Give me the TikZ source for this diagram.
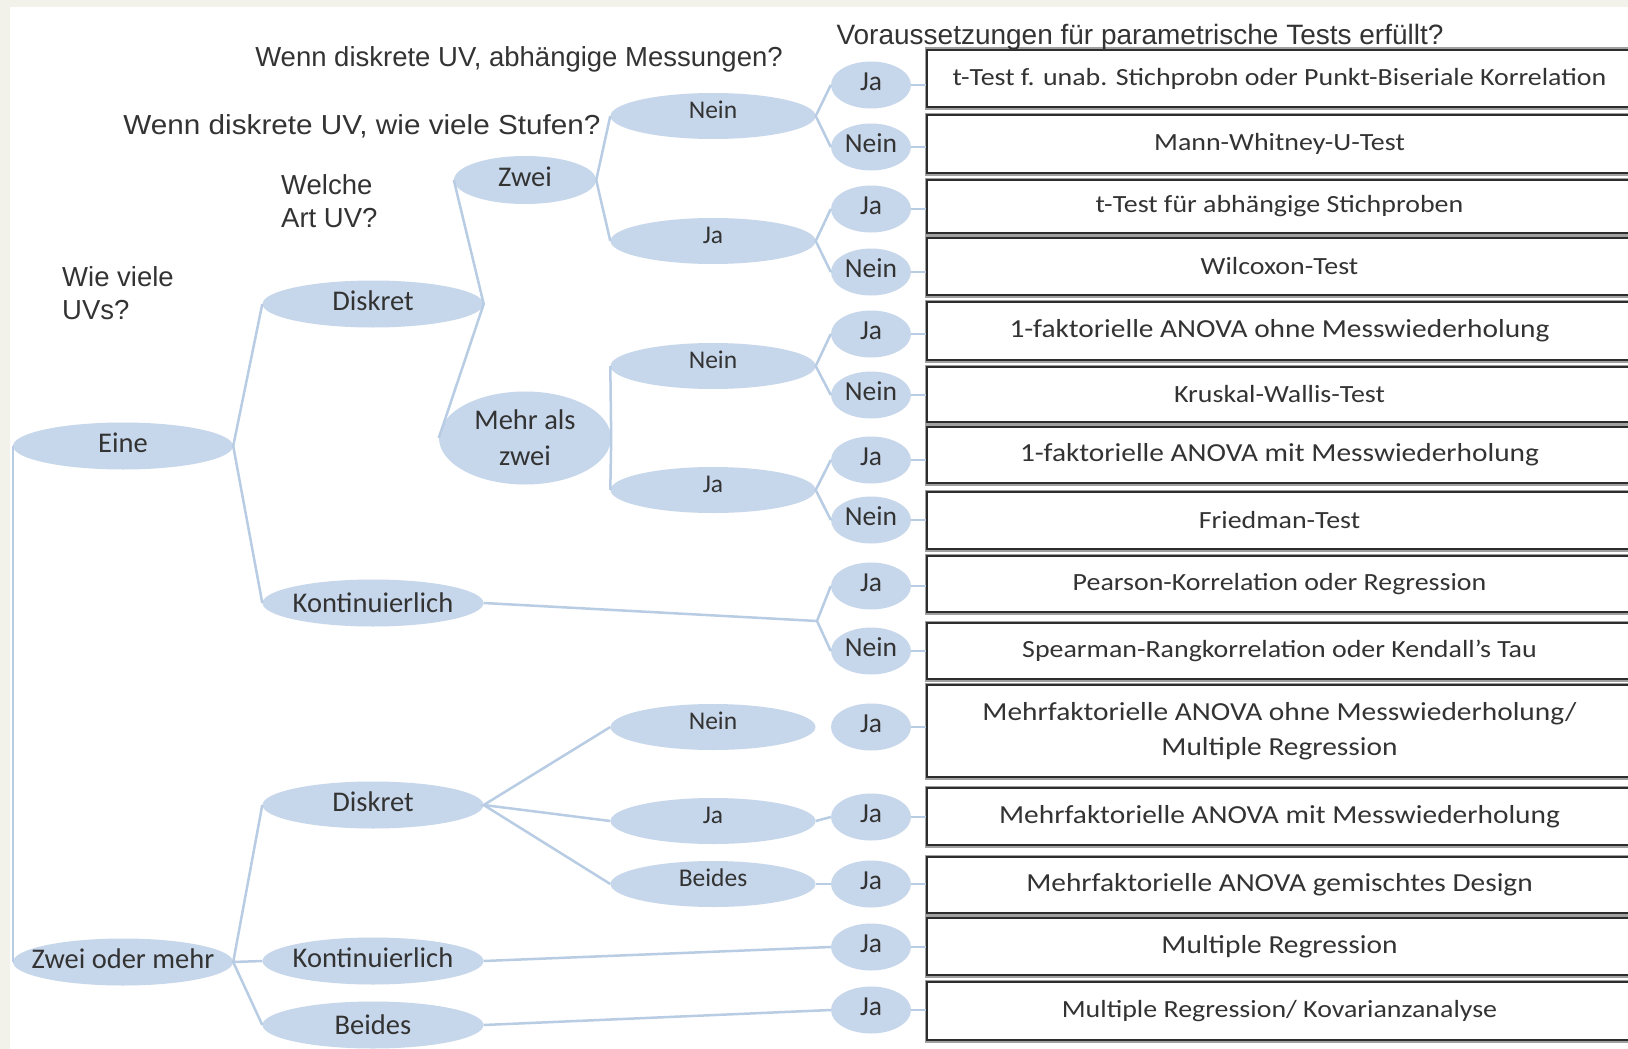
\documentclass[tikz,border=0pt]{standalone}
\usepackage{fontspec}
\setmainfont{Carlito}
\newfontfamily\arialfont{Liberation Sans}
\newfontfamily\arialbreit[FakeStretch=1.08]{Liberation Sans}
\newfontfamily\boxfont[FakeStretch=1.13]{Carlito}
\usetikzlibrary{shapes.geometric}
\definecolor{uvblau}{RGB}{199,215,235}
\definecolor{astblau}{RGB}{184,204,228}
\definecolor{schrift}{RGB}{51,51,51}
\definecolor{randgrau}{RGB}{242,242,235}
\definecolor{rahmen}{RGB}{45,45,45}
\definecolor{schatten}{RGB}{160,160,160}

\begin{document}
\begin{tikzpicture}[x=1pt,y=-1pt,
		uvform/.style={ellipse,fill=uvblau,inner sep=0pt,text=schrift,font=\fontsize{28.5}{36}\selectfont,minimum width=221,minimum height=47},
		uv/.style={uvform,text height=21pt,text depth=8pt},
		antwort/.style={ellipse,fill=uvblau,inner sep=0pt,text=schrift,font=\fontsize{25.5}{30}\selectfont,minimum width=205,minimum height=46,text height=17pt,text depth=12pt},
		jn/.style={ellipse,fill=uvblau,inner sep=0pt,text=schrift,font=\fontsize{27.5}{32}\selectfont,minimum width=80,minimum height=47,text height=19pt,text depth=9pt},
		ast/.style={draw=astblau,line width=2.5pt},
		frage/.style={font=\arialfont\fontsize{27.5}{33}\selectfont,text=schrift,inner sep=0pt},
		testbox/.style={fill=white,draw=rahmen,line width=2pt,preaction={draw=schatten,line width=5pt},minimum width=705,inner sep=0pt,text=schrift,align=center},
		klein/.style={font=\boxfont\fontsize{24.7}{29}\selectfont},
		gross/.style={font=\boxfont\fontsize{26}{35}\selectfont}]
		\useasboundingbox (0,0) rectangle (1628,1049);
		\fill[randgrau] (0,0) rectangle (1628,1049);
		\fill[white] (10,7) rectangle (1650,1070);
		
		% Fragen
		\node[frage] (qmess) at (519,59) {Wenn diskrete UV, abhängige Messungen?};
		\node[frage,font=\arialbreit\fontsize{27.5}{33}\selectfont] (qstufen) at (362,126) {Wenn diskrete UV, wie viele Stufen?};
		\node[frage,anchor=west,align=left] (qart) at (281,201) {Welche\\Art UV?};
		\node[frage,anchor=west,align=left] (qanzahl) at (62,293) {Wie viele\\UVs?};
		
		% Testboxen
		\node[testbox,klein,minimum height=57] (t1) at (1279.5,78.5) {t-Test f. unab. Stichprobn oder Punkt-Biseriale Korrelation};
		\node[testbox,klein,minimum height=58] (t2) at (1279.5,144) {Mann-Whitney-U-Test};
		\node[testbox,klein,minimum height=53] (t3) at (1279.5,206.5) {t-Test für abhängige Stichproben};
		\node[testbox,klein,minimum height=57] (t4) at (1279.5,266.5) {Wilcoxon-Test};
		\node[testbox,gross,minimum height=58] (t5) at (1279.5,331) {1-faktorielle ANOVA ohne Messwiederholung};
		\node[testbox,klein,minimum height=55] (t6) at (1279.5,394.5) {Kruskal-Wallis-Test};
		\node[testbox,gross,minimum height=56] (t7) at (1279.5,455) {1-faktorielle ANOVA mit Messwiederholung};
		\node[testbox,klein,minimum height=57] (t8) at (1279.5,520.5) {Friedman-Test};
		\node[testbox,klein,minimum height=56] (t9) at (1279.5,584) {Pearson-Korrelation oder Regression};
		\node[testbox,klein,minimum height=56] (t10) at (1279.5,651) {Spearman-Rangkorrelation oder Kendall’s Tau};
		\node[testbox,gross,minimum height=92] (t11) at (1279.5,731) {Mehrfaktorielle ANOVA ohne Messwiederholung/\\Multiple Regression};
		\node[testbox,gross,minimum height=57] (t12) at (1279.5,816.5) {Mehrfaktorielle ANOVA mit Messwiederholung};
		\node[testbox,gross,minimum height=56] (t13) at (1279.5,885) {Mehrfaktorielle ANOVA gemischtes Design};
		\node[testbox,gross,minimum height=57] (t14) at (1279.5,946.5) {Multiple Regression};
		\node[testbox,klein,minimum height=58] (t15) at (1279.5,1011) {Multiple Regression/ Kovarianzanalyse};
		
		\node[frage,font=\arialfont\fontsize{28}{33}\selectfont] (qvoraus) at (1140,37) {Voraussetzungen für parametrische Tests erfüllt?};
		
		% Anzahl und Art der UVs
		\node[uv,minimum width=220] (eine) at (123,446) {Eine};
		\node[uv,minimum width=220,inner xsep=-20pt] (zweimehr) at (123,962) {Zwei oder mehr};
		\node[uv] (diskreta) at (373,304) {Diskret};
		\node[uvform,inner xsep=-8pt] (konta) at (373,603) {Kontinuierlich};
		\node[uv] (diskretb) at (373,805) {Diskret};
		\node[uv,inner xsep=-8pt] (kontb) at (373,961) {Kontinuierlich};
		\node[uvform] (beidesb) at (373,1025) {Beides};
		\node[uv,minimum width=142,minimum height=48] (zwei) at (525,180) {Zwei};
		\node[uvform,minimum width=172,minimum height=93,align=center] (mehr) at (525,438) {Mehr als\\zwei};
		
		% abhängige Messungen
		\node[antwort] (neina) at (713,116) {Nein};
		\node[antwort] (jaa) at (713,241) {Ja};
		\node[antwort] (neinb) at (713,366) {Nein};
		\node[antwort] (jab) at (713,490) {Ja};
		\node[antwort] (neinc) at (713,727) {Nein};
		\node[antwort] (jac) at (713,821) {Ja};
		\node[antwort] (beidesc) at (713,884) {Beides};
		
		% Voraussetzungen
		\node[jn] (c1) at (871,85) {Ja};
		\node[jn] (c2) at (871,147) {Nein};
		\node[jn] (c3) at (871,209) {Ja};
		\node[jn] (c4) at (871,272) {Nein};
		\node[jn] (c5) at (871,334) {Ja};
		\node[jn] (c6) at (871,395) {Nein};
		\node[jn] (c7) at (871,460) {Ja};
		\node[jn] (c8) at (871,520) {Nein};
		\node[jn] (c9) at (871,586) {Ja};
		\node[jn] (c10) at (871,651) {Nein};
		\node[jn] (c11) at (871,727) {Ja};
		\node[jn] (c12) at (871,817) {Ja};
		\node[jn] (c13) at (871,884) {Ja};
		\node[jn] (c14) at (871,947) {Ja};
		\node[jn] (c15) at (871,1010) {Ja};
		\coordinate (gabel) at (817,621);
		
		% Äste
		\draw[ast] (eine.west) -- (zweimehr.west);
		\draw[ast] (diskreta.west) -- (eine.east) -- (konta.west);
		\draw[ast] (zwei.west) -- (diskreta.east) -- (mehr.west);
		\draw[ast] (neina.west) -- (zwei.east) -- (jaa.west);
		\draw[ast] (neinb.west) -- (mehr.east) -- (jab.west);
		\draw[ast] (c1.west) -- (neina.east) -- (c2.west);
		\draw[ast] (c3.west) -- (jaa.east) -- (c4.west);
		\draw[ast] (c5.west) -- (neinb.east) -- (c6.west);
		\draw[ast] (c7.west) -- (jab.east) -- (c8.west);
		\draw[ast] (konta.east) -- (gabel);
		\draw[ast] (c9.west) -- (gabel) -- (c10.west);
		\draw[ast] (diskretb.west) -- (zweimehr.east) -- (kontb.west);
		\draw[ast] (zweimehr.east) -- (beidesb.west);
		\draw[ast] (neinc.west) -- (diskretb.east) -- (jac.west);
		\draw[ast] (diskretb.east) -- (beidesc.west);
		\draw[ast] (jac.east) -- (c12.west);
		\draw[ast] (beidesc.east) -- (c13.west);
		\draw[ast] (kontb.east) -- (c14.west);
		\draw[ast] (beidesb.east) -- (c15.west);
		
		% Stummel zu den Boxen
		\draw[ast] (c1.east) -- (c1.east -| t1.west);
		\draw[ast] (c2.east) -- (c2.east -| t2.west);
		\draw[ast] (c3.east) -- (c3.east -| t3.west);
		\draw[ast] (c4.east) -- (c4.east -| t4.west);
		\draw[ast] (c5.east) -- (c5.east -| t5.west);
		\draw[ast] (c6.east) -- (c6.east -| t6.west);
		\draw[ast] (c7.east) -- (c7.east -| t7.west);
		\draw[ast] (c8.east) -- (c8.east -| t8.west);
		\draw[ast] (c9.east) -- (c9.east -| t9.west);
		\draw[ast] (c10.east) -- (c10.east -| t10.west);
		\draw[ast] (c11.east) -- (c11.east -| t11.west);
		\draw[ast] (c12.east) -- (c12.east -| t12.west);
		\draw[ast] (c13.east) -- (c13.east -| t13.west);
		\draw[ast] (c14.east) -- (c14.east -| t14.west);
		\draw[ast] (c15.east) -- (c15.east -| t15.west);
	\end{tikzpicture}
\end{document}
